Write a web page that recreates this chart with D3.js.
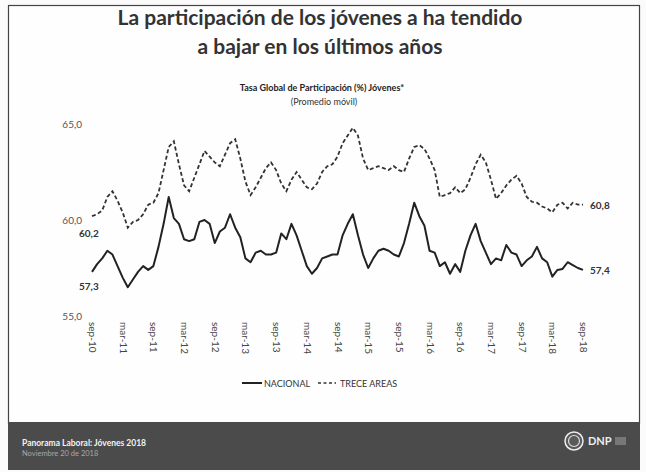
<!DOCTYPE html>
<html>
<head>
<meta charset="utf-8">
<script src="https://cdn.jsdelivr.net/npm/d3@7"></script>
<style>
  html, body { margin: 0; padding: 0; background: #ffffff; }
  svg { display: block; }
</style>
</head>
<body>
<svg id="chart" width="646" height="472"></svg>
<script>
// Monthly moving-average youth participation rate, sep-10 .. sep-18
const months = d3.range(97); // month index from sep-10
const tickLabels = ["sep-10","mar-11","sep-11","mar-12","sep-12","mar-13","sep-13","mar-14",
  "sep-14","mar-15","sep-15","mar-16","sep-16","mar-17","sep-17","mar-18","sep-18"];
const yTicks = [55, 60, 65];

const nacional = [
  57.3, 57.7, 58.0, 58.4, 58.2, 57.6, 57.0, 56.5, 56.9, 57.3, 57.6, 57.4,
  57.6, 58.6, 59.8, 61.2, 60.1, 59.8, 59.0, 58.9, 59.0, 59.9, 60.0, 59.8,
  58.8, 59.4, 59.6, 60.3, 59.6, 59.1, 58.0, 57.8, 58.3, 58.4, 58.2, 58.2,
  58.3, 59.3, 59.0, 59.8, 59.2, 58.4, 57.6, 57.2, 57.5, 58.0, 58.1, 58.2,
  58.2, 59.2, 59.8, 60.3, 59.2, 58.2, 57.5, 58.0, 58.4, 58.5, 58.4, 58.2,
  58.1, 58.8, 59.8, 60.9, 60.2, 59.7, 58.4, 58.3, 57.6, 57.8, 57.2, 57.7,
  57.3, 58.4, 59.2, 59.8, 58.9, 58.3, 57.7, 58.0, 57.9, 58.7, 58.3, 58.2,
  57.6, 57.9, 58.1, 58.6, 58.0, 57.8, 57.05, 57.4, 57.45, 57.8, 57.65, 57.5,
  57.4
];
const treceAreas = [
  60.2, 60.3, 60.5, 61.2, 61.5, 61.0, 60.4, 59.6, 59.9, 60.0, 60.3, 60.8,
  60.9, 61.4, 62.6, 63.8, 64.1, 62.9, 61.8, 61.5, 62.2, 62.9, 63.6, 63.3,
  63.0, 62.8, 63.4, 64.0, 64.2, 63.2, 62.0, 61.3, 61.7, 62.2, 62.7, 63.0,
  62.6, 61.9, 61.5, 62.1, 62.5, 62.1, 61.7, 61.6, 61.9, 62.5, 62.8, 62.9,
  63.3, 64.0, 64.4, 64.8, 64.4, 63.2, 62.6, 62.7, 62.8, 62.7, 62.6, 62.8,
  62.6, 62.5, 63.2, 63.8, 63.9, 63.7, 63.2, 62.6, 61.2, 61.3, 61.4, 61.7,
  61.4, 61.6, 62.2, 62.9, 63.4, 63.0, 62.1, 61.1, 61.4, 61.8, 62.1, 62.3,
  61.9, 61.2, 60.95, 60.9, 60.7, 60.6, 60.4, 60.8, 60.9, 60.6, 60.9, 60.8,
  60.8
];

const fmt = v => d3.format(".1f")(v).replace(".", ",");

const svg = d3.select("#chart");
const font = "Lato, 'Open Sans', sans-serif";

// slide frame
svg.append("rect").attr("x", 0).attr("y", 0).attr("width", 646).attr("height", 472).attr("fill", "#fbfbfb");
svg.append("rect").attr("x", 8.5).attr("y", 5.5).attr("width", 631).attr("height", 418)
  .attr("fill", "#fefefe").attr("stroke", "#444").attr("stroke-width", 1.2);

// title
const title = svg.append("text").attr("text-anchor", "middle").attr("font-family", font)
  .attr("font-weight", 700).attr("font-size", 21).attr("fill", "#333");
title.append("tspan").attr("x", 320).attr("y", 25).text("La participación de los jóvenes a ha tendido");
title.append("tspan").attr("x", 320).attr("y", 54).text("a bajar en los últimos años");

svg.append("text").attr("x", 322).attr("y", 91).attr("text-anchor", "middle")
  .attr("font-family", font).attr("font-weight", 700).attr("font-size", 9).attr("fill", "#222")
  .text("Tasa Global de Participación (%) Jóvenes*");
svg.append("text").attr("x", 324).attr("y", 105).attr("text-anchor", "middle")
  .attr("font-family", font).attr("font-size", 9).attr("fill", "#333")
  .text("(Promedio móvil)");

// scales
const x = d3.scaleLinear().domain([0, 96]).range([92, 583]);
const y = d3.scaleLinear().domain([55, 65]).range([316, 124]);

// y axis labels
const yAxis = d3.axisLeft(y).tickValues(yTicks).tickFormat(fmt).tickSize(0).tickPadding(0);
const gy = svg.append("g").attr("transform", "translate(82,0)").call(yAxis);
gy.select(".domain").remove();
gy.selectAll("text").attr("font-family", font).attr("font-size", 10).attr("fill", "#555");

// x axis labels (rotated)
const xAxis = d3.axisBottom(x).tickValues(d3.range(0, 97, 6))
  .tickFormat((d, i) => tickLabels[i]).tickSize(0).tickPadding(0);
const gx = svg.append("g").attr("transform", "translate(0,322)").call(xAxis);
gx.select(".domain").remove();
gx.selectAll("text").attr("font-family", font).attr("font-size", 10).attr("fill", "#444")
  .attr("text-anchor", "start").attr("dy", "0.35em").attr("dx", 0)
  .attr("transform", "rotate(90)").attr("y", 0).attr("x", 0);

// series lines
const line = data => d3.line().x((d, i) => x(months[i])).y(d => y(d))(data);
svg.append("path").attr("d", line(treceAreas)).attr("fill", "none")
  .attr("stroke", "#333").attr("stroke-width", 1.8).attr("stroke-dasharray", "4,2.5");
svg.append("path").attr("d", line(nacional)).attr("fill", "none")
  .attr("stroke", "#222").attr("stroke-width", 2).attr("stroke-linejoin", "round");

// end-point labels
const lab = (xv, yv, t) => svg.append("text").attr("x", xv).attr("y", yv)
  .attr("font-family", font).attr("font-weight", 700).attr("font-size", 10).attr("fill", "#333").text(t);
lab(x(0) - 13, y(treceAreas[0]) + 21, fmt(treceAreas[0]));
lab(x(0) - 13, y(nacional[0]) + 18, fmt(nacional[0]));
lab(x(96) + 7, y(treceAreas[96]) + 4, fmt(treceAreas[96]));
lab(x(96) + 7, y(nacional[96]) + 4, fmt(nacional[96]));

// legend
const leg = svg.append("g").attr("font-family", font).attr("font-size", 9).attr("fill", "#333");
leg.append("line").attr("x1", 242).attr("x2", 262).attr("y1", 383).attr("y2", 383)
  .attr("stroke", "#222").attr("stroke-width", 2);
leg.append("text").attr("x", 264).attr("y", 386.5).text("NACIONAL");
leg.append("line").attr("x1", 318).attr("x2", 336).attr("y1", 383).attr("y2", 383)
  .attr("stroke", "#333").attr("stroke-width", 1.5).attr("stroke-dasharray", "3,2.5");
leg.append("text").attr("x", 340).attr("y", 386.5).text("TRECE AREAS");

// footer band
svg.append("rect").attr("x", 8).attr("y", 422).attr("width", 632).attr("height", 48).attr("fill", "#4b4b4b");
svg.append("text").attr("x", 22).attr("y", 446).attr("font-family", font).attr("font-weight", 700)
  .attr("font-size", 8.5).attr("fill", "#f2f2f2").text("Panorama Laboral: Jóvenes 2018");
svg.append("text").attr("x", 22).attr("y", 456).attr("font-family", font)
  .attr("font-size", 7.5).attr("fill", "#a8a8a8").text("Noviembre 20 de 2018");

// DNP emblem
const logo = svg.append("g").attr("transform", "translate(574,441)");
logo.append("circle").attr("r", 9).attr("fill", "#5a5a5a").attr("stroke", "#eee").attr("stroke-width", 1.5);
logo.append("circle").attr("r", 5.5).attr("fill", "none").attr("stroke", "#ddd").attr("stroke-width", 1.2);
logo.append("text").attr("x", 14).attr("y", 4).attr("font-family", font).attr("font-weight", 700)
  .attr("font-size", 11).attr("fill", "#eee").text("DNP");
[-3, -1, 1, 3].forEach(dy => logo.append("line").attr("x1", 41).attr("x2", 52)
  .attr("y1", dy).attr("y2", dy).attr("stroke", "#bbb").attr("stroke-width", 0.8));
</script>
</body>
</html>
